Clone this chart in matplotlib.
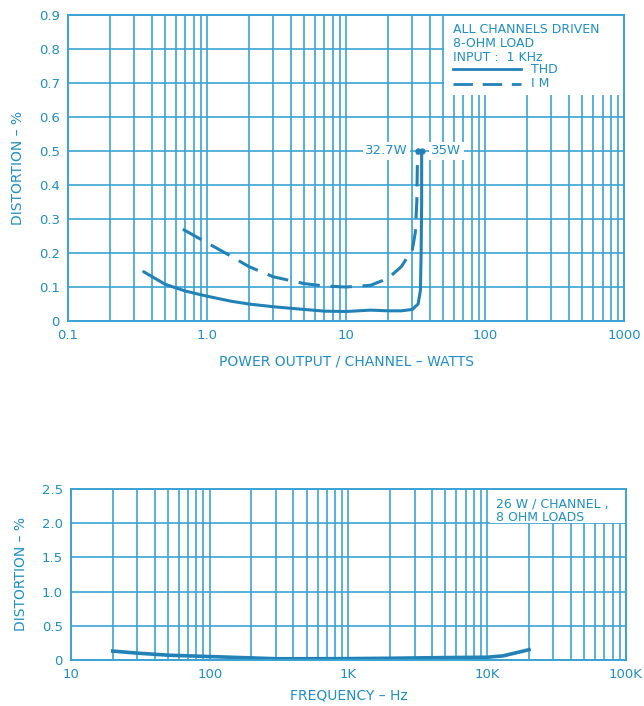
import matplotlib
matplotlib.use("Agg")
import matplotlib.pyplot as plt
from matplotlib.patches import Rectangle
from matplotlib.ticker import FixedLocator, LogLocator, NullFormatter

# ---------------- data ----------------
thd_power = [0.35, 0.5, 0.7, 1.0, 1.5, 2, 3, 5, 7, 10, 15, 20, 25, 30, 33, 34.3, 34.7, 35, 35]
thd_value = [0.145, 0.108, 0.088, 0.073, 0.058, 0.05, 0.042, 0.034, 0.029, 0.028, 0.032,
             0.03, 0.03, 0.034, 0.05, 0.09, 0.2, 0.35, 0.5]
im_power = [0.67, 1.0, 1.5, 2, 3, 5, 7, 10, 15, 20, 25, 30, 31.5, 32.3, 32.7]
im_value = [0.27, 0.23, 0.19, 0.16, 0.13, 0.11, 0.103, 0.1, 0.105, 0.125, 0.16, 0.21, 0.26, 0.35, 0.5]

top_xticks = [0.1, 1.0, 10, 100, 1000]
top_xlabels = ["0.1", "1.0", "10", "100", "1000"]
top_yticks = [0, 0.1, 0.2, 0.3, 0.4, 0.5, 0.6, 0.7, 0.8, 0.9]
top_ylabels = ["0", "0.1", "0.2", "0.3", "0.4", "0.5", "0.6", "0.7", "0.8", "0.9"]

freq_hz = [20, 30, 50, 100, 200, 300, 500, 1000, 2000, 5000, 10000, 13000, 20000]
freq_dist = [0.13, 0.1, 0.07, 0.05, 0.03, 0.018, 0.018, 0.02, 0.025, 0.035, 0.04, 0.06, 0.15]

bot_xticks = [10, 100, 1000, 10000, 100000]
bot_xlabels = ["10", "100", "1K", "10K", "100K"]
bot_yticks = [0, 0.5, 1.0, 1.5, 2.0, 2.5]
bot_ylabels = ["0", "0.5", "1.0", "1.5", "2.0", "2.5"]

# ---------------- style ----------------
TXT = "#1f8fc6"
GRID = "#3ba3d4"
CURVE = "#2282b8"
plt.rcParams["font.family"] = ["DejaVu Sans"]

fig = plt.figure(figsize=(6.44, 7.06), dpi=100)

def style_axes(ax, xticks, xlabels, yticks, ylabels, xlim, ylim):
    ax.set_xscale("log")
    ax.set_xlim(*xlim)
    ax.set_ylim(*ylim)
    ax.xaxis.set_major_locator(FixedLocator(xticks))
    ax.set_xticks(xticks)
    ax.set_xticklabels(xlabels)
    ax.xaxis.set_minor_locator(LogLocator(base=10, subs=range(2, 10)))
    ax.xaxis.set_minor_formatter(NullFormatter())
    ax.set_yticks(yticks)
    ax.set_yticklabels(ylabels)
    ax.grid(True, which="both", axis="both", color=GRID, lw=1.2, zorder=1)
    ax.tick_params(which="both", length=0, colors=TXT, labelsize=9.5, pad=6)
    for s in ax.spines.values():
        s.set_color(GRID)
        s.set_linewidth(1.4)
        s.set_zorder(5)

DASH = (7, 3.5)

# ---------------- top chart ----------------
ax1 = fig.add_axes([0.1056, 0.5453, 0.8634, 0.4335])
style_axes(ax1, top_xticks, top_xlabels, top_yticks, top_ylabels, (0.1, 1000), (0, 0.9))
ax1.add_patch(Rectangle((51, 0.665), 1000 - 51, 0.9 - 0.665, facecolor="white",
                        edgecolor="none", zorder=2))
ax1.plot(thd_power, thd_value, color=CURVE, lw=2.2, zorder=3, solid_capstyle="round")
ax1.plot(im_power, im_value, color=CURVE, lw=2.2, zorder=3, dashes=DASH)
ax1.plot([thd_power[-1], im_power[-1]], [thd_value[-1], im_value[-1]], "o",
         color=CURVE, ms=3.5, zorder=4)
ax1.annotate("32.7W", (im_power[-1], im_value[-1]), xytext=(-7, 0), textcoords="offset points",
             ha="right", va="center", color=TXT, fontsize=9.5, zorder=4,
             bbox=dict(facecolor="white", edgecolor="none", pad=1.5))
ax1.annotate("35W", (thd_power[-1], thd_value[-1]), xytext=(7, 0), textcoords="offset points",
             ha="left", va="center", color=TXT, fontsize=9.5, zorder=4,
             bbox=dict(facecolor="white", edgecolor="none", pad=1.5))

ax1.text(0.692, 0.975, "ALL CHANNELS DRIVEN\n8-OHM LOAD\nINPUT :  1 KHz", transform=ax1.transAxes,
         ha="left", va="top", color=TXT, fontsize=9, linespacing=1.1, zorder=4)
ax1.plot([0.693, 0.815], [0.822, 0.822], transform=ax1.transAxes, color=CURVE, lw=2, zorder=4)
ax1.plot([0.693, 0.815], [0.776, 0.776], transform=ax1.transAxes, color=CURVE, lw=2,
         dashes=DASH, zorder=4)
ax1.text(0.832, 0.822, "THD", transform=ax1.transAxes, ha="left", va="center",
         color=TXT, fontsize=9, zorder=4)
ax1.text(0.832, 0.776, "I M", transform=ax1.transAxes, ha="left", va="center",
         color=TXT, fontsize=9, zorder=4)

ax1.set_ylabel("DISTORTION – %", color=TXT, fontsize=10, labelpad=10)
ax1.set_xlabel("POWER OUTPUT / CHANNEL – WATTS", color=TXT, fontsize=10, labelpad=9)

# ---------------- bottom chart ----------------
ax2 = fig.add_axes([0.1102, 0.0652, 0.8618, 0.2422])
style_axes(ax2, bot_xticks, bot_xlabels, bot_yticks, bot_ylabels, (10, 100000), (0, 2.5))
ax2.add_patch(Rectangle((10500, 2.0), 100000 - 10500, 0.5, facecolor="white",
                        edgecolor="none", zorder=2))
ax2.plot(freq_hz, freq_dist, color=CURVE, lw=2.6, zorder=3)
ax2.text(0.765, 0.95, "26 W / CHANNEL ,\n8 OHM LOADS", transform=ax2.transAxes,
         ha="left", va="top", color=TXT, fontsize=9, linespacing=1.05, zorder=4)
ax2.set_ylabel("DISTORTION – %", color=TXT, fontsize=10, labelpad=10)
ax2.set_xlabel("FREQUENCY – Hz", color=TXT, fontsize=10, labelpad=5)

fig.savefig("out.png", dpi=100, facecolor="white")
